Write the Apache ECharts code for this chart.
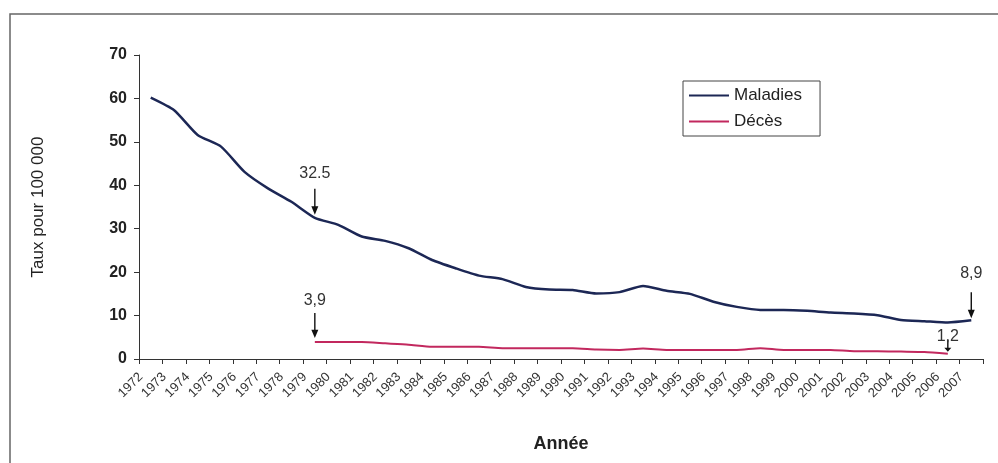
<!DOCTYPE html>
<html>
<head>
<meta charset="utf-8">
<script src="https://cdn.jsdelivr.net/npm/echarts@6/dist/echarts.min.js"></script>
<style>
  html, body { margin: 0; padding: 0; background: #fff; }
  #chart { width: 998px; height: 463px; }
</style>
</head>
<body>
<div id="chart"></div>
<script>
// Years on the horizontal axis
const years = [
  '1972','1973','1974','1975','1976','1977','1978','1979','1980','1981',
  '1982','1983','1984','1985','1986','1987','1988','1989','1990','1991',
  '1992','1993','1994','1995','1996','1997','1998','1999','2000','2001',
  '2002','2003','2004','2005','2006','2007'
];

// Rates per 100 000 inhabitants
const maladies = [
  60.2, 57.3, 51.6, 48.9, 43.1, 39.3, 36.2, 32.5, 30.9, 28.2,
  27.2, 25.5, 22.8, 20.9, 19.2, 18.4, 16.6, 16.0, 15.9, 15.1,
  15.4, 16.8, 15.7, 15.0, 13.2, 12.0, 11.3, 11.3, 11.1, 10.7,
  10.5, 10.1, 9.0, 8.7, 8.4, 8.9
];
const deces = [
  null, null, null, null, null, null, null, 3.9, 3.9, 3.9,
  3.6, 3.3, 2.8, 2.8, 2.8, 2.5, 2.5, 2.5, 2.5, 2.2,
  2.1, 2.4, 2.1, 2.1, 2.1, 2.1, 2.5, 2.1, 2.1, 2.1,
  1.8, 1.8, 1.7, 1.6, 1.2
];

// Y axis ticks
const yTicks = [0, 10, 20, 30, 40, 50, 60, 70];

// Annotated years and their captions
const notesMaladies = [
  { year: '1979', text: '32.5' },
  { year: '2007', text: '8,9' }
];
const notesDeces = [
  { year: '1979', text: '3,9' },
  { year: '2006', text: '1,2' }
];

// Arrow geometry for each caption (length, gap above the line, label distance)
const arrowStyle = {
  '32.5': { len: 26, gap: 3, dist: 7 },
  '8,9':  { len: 26, gap: 2, dist: 11 },
  '3,9':  { len: 25, gap: 4, dist: 4 },
  '1,2':  { len: 12, gap: 2, dist: -5 }
};

const ARROW = 'path://M4,0 L6,0 L6,20 L10,20 L5,30 L0,20 L4,20 Z';
const FONT = 'Liberation Sans, Arial, sans-serif';

function arrowMarks(notes, values) {
  return notes.map(n => {
    const i = years.indexOf(n.year);
    const s = arrowStyle[n.text];
    return {
      coord: [i, values[i]],
      value: values[i],
      symbol: ARROW,
      symbolSize: [7, s.len],
      symbolOffset: [0, -(s.gap + s.len / 2)],
      itemStyle: { color: '#111' },
      label: {
        show: true,
        position: 'top',
        distance: s.dist,
        formatter: () => n.text,
        color: '#333',
        fontSize: 16,
        fontFamily: FONT
      }
    };
  });
}

const chart = echarts.init(document.getElementById('chart'), null, { renderer: 'canvas' });

chart.setOption({
  backgroundColor: '#fff',
  animation: false,
  graphic: [{
    type: 'rect',
    shape: { x: 10, y: 14, width: 1000, height: 470 },
    style: { fill: 'none', stroke: '#666', lineWidth: 1.5 },
    silent: true
  }],
  grid: { left: 139, right: 15, top: 55, bottom: 104 },
  legend: {
    orient: 'vertical',
    left: 683,
    top: 81,
    icon: 'rect',
    itemWidth: 40,
    itemHeight: 2,
    itemGap: 9,
    padding: [6, 18, 6, 6],
    borderColor: '#444',
    borderWidth: 1,
    textStyle: { color: '#222', fontSize: 17, fontFamily: FONT },
    data: ['Maladies', 'Décès']
  },
  xAxis: {
    type: 'category',
    data: years,
    boundaryGap: true,
    name: 'Année',
    nameLocation: 'middle',
    nameGap: 76,
    nameTextStyle: { color: '#222', fontSize: 18, fontWeight: 'bold', fontFamily: FONT },
    axisLine: { lineStyle: { color: '#333', width: 1 } },
    axisTick: { show: true, length: 5, lineStyle: { color: '#333' } },
    axisLabel: {
      interval: 0,
      rotate: 45,
      margin: 6,
      padding: [0, 14, 0, 0],
      color: '#333',
      fontSize: 13,
      fontFamily: FONT
    },
    splitLine: { show: false }
  },
  yAxis: {
    type: 'value',
    min: yTicks[0],
    max: yTicks[yTicks.length - 1],
    interval: yTicks[1] - yTicks[0],
    name: 'Taux pour 100 000',
    nameLocation: 'middle',
    nameGap: 92,
    nameRotate: 90,
    nameTextStyle: { color: '#222', fontSize: 17, fontFamily: FONT },
    axisLine: { show: true, lineStyle: { color: '#333', width: 1 } },
    axisTick: { show: true, length: 5, lineStyle: { color: '#333' } },
    axisLabel: { margin: 12, color: '#222', fontSize: 16, fontWeight: 'bold', fontFamily: FONT },
    splitLine: { show: false }
  },
  series: [
    {
      name: 'Maladies',
      type: 'line',
      data: maladies,
      smooth: 0.2,
      symbol: 'none',
      color: '#1c2755',
      lineStyle: { color: '#1c2755', width: 2.5 },
      markPoint: { silent: true, data: arrowMarks(notesMaladies, maladies) }
    },
    {
      name: 'Décès',
      type: 'line',
      data: deces,
      smooth: 0.2,
      symbol: 'none',
      color: '#c2285e',
      lineStyle: { color: '#c2285e', width: 2 },
      markPoint: { silent: true, data: arrowMarks(notesDeces, deces) }
    }
  ]
});
</script>
</body>
</html>
